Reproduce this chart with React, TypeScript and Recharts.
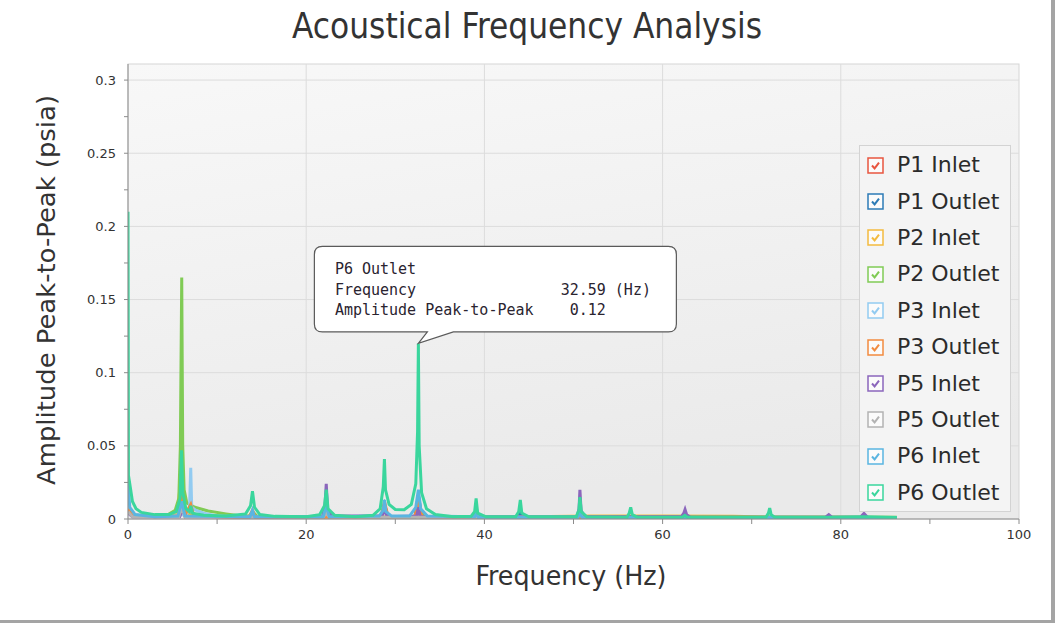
import React from 'react';
import { LineChart, Line, XAxis, YAxis, CartesianGrid, ReferenceDot, Legend } from 'recharts';

type Pt = [number, number];

const seriesNames = [
  'P1 Inlet', 'P1 Outlet', 'P2 Inlet', 'P2 Outlet', 'P3 Inlet',
  'P3 Outlet', 'P5 Inlet', 'P5 Outlet', 'P6 Inlet', 'P6 Outlet',
];
const seriesColors = [
  '#e8553f', '#2c7bb6', '#f3bb3f', '#80cb55', '#92cbf1',
  '#f28b3f', '#8b66bc', '#b3b3b3', '#5ab5e1', '#3ad69d',
];

// [frequency (Hz), amplitude peak-to-peak (psia)]
const p1Inlet: Pt[] = [
  [0, 0.006], [0.5, 0.002], [5.7, 0.002], [6.03, 0.01], [6.4, 0.002], [13.6, 0.0012], [13.97, 0.004],
  [14.3, 0.0012], [21.9, 0.0012], [22.25, 0.005], [22.6, 0.0012], [28.4, 0.0012], [28.78, 0.008],
  [29.2, 0.0012], [32.2, 0.0015], [32.59, 0.012], [33, 0.0012], [86.3, 0.001],
];
const p1Outlet: Pt[] = [
  [0, 0.008], [0.4, 0.0025], [5.7, 0.002], [6.03, 0.012], [6.4, 0.002], [21.9, 0.0012], [22.25, 0.006],
  [22.6, 0.0012], [28.4, 0.0012], [28.78, 0.01], [29.2, 0.0012], [32.2, 0.0015], [32.59, 0.016],
  [33, 0.0012], [43.8, 0.0012], [44.03, 0.005], [44.3, 0.0012], [86.3, 0.001],
];
const p2Inlet: Pt[] = [
  [0, 0.008], [0.5, 0.003], [2, 0.0018], [5.5, 0.003], [6.0, 0.03], [6.3, 0.006], [7, 0.003],
  [10, 0.002], [20, 0.0015], [21.9, 0.0015], [22.25, 0.006], [23, 0.0015], [45, 0.0015],
  [52, 0.0021], [60, 0.0021], [68, 0.0019], [72, 0.0013], [86.3, 0.0011],
];
const p2Outlet: Pt[] = [
  [0, 0.012], [0.3, 0.004], [1, 0.002], [3, 0.002], [4.5, 0.003], [5.3, 0.006], [5.7, 0.014],
  [5.88, 0.05], [5.93, 0.092], [6.03, 0.165], [6.1, 0.092], [6.14, 0.05], [6.3, 0.02], [6.6, 0.011],
  [7.5, 0.008], [9, 0.0055], [11, 0.0035], [12.5, 0.0022], [13.6, 0.002], [13.97, 0.005], [14.5, 0.0018],
  [21.9, 0.0015], [22.25, 0.004], [23, 0.0015], [28.4, 0.0015], [28.78, 0.006], [29.5, 0.0015],
  [32.2, 0.0015], [32.59, 0.01], [33.2, 0.0015], [86.3, 0.0012],
];
const p3Inlet: Pt[] = [
  [0, 0.01], [0.4, 0.003], [3, 0.0015], [6.5, 0.003], [6.9, 0.007], [7.04, 0.035], [7.15, 0.008],
  [7.6, 0.006], [8.5, 0.004], [10, 0.002], [14, 0.0015], [21.9, 0.0012], [22.25, 0.005],
  [23, 0.0012], [32.2, 0.0012], [32.59, 0.004], [33, 0.0012], [86.3, 0.001],
];
const p3Outlet: Pt[] = [
  [0, 0.007], [0.5, 0.002], [5.7, 0.002], [6.03, 0.02], [6.4, 0.003], [7.04, 0.01], [7.4, 0.002],
  [13.6, 0.0012], [13.97, 0.006], [14.3, 0.0012], [28.4, 0.0012], [28.78, 0.012], [29.2, 0.0012],
  [32.2, 0.0015], [32.59, 0.014], [33, 0.0012], [86.3, 0.001],
];
const p5Inlet: Pt[] = [
  [0, 0.004], [0.5, 0.0015], [5.8, 0.0015], [6.1, 0.006], [6.3, 0.004], [6.5, 0.0015],
  [21.8, 0.0015], [22.1, 0.008], [22.25, 0.024], [22.4, 0.007], [22.8, 0.002], [28.5, 0.002],
  [28.78, 0.006], [29.1, 0.0015], [32.4, 0.002], [32.59, 0.008], [32.8, 0.0015], [50.4, 0.0015],
  [50.62, 0.007], [50.72, 0.02], [50.85, 0.006], [51.2, 0.0015], [62.1, 0.0015], [62.38, 0.004],
  [62.52, 0.0065], [62.7, 0.003], [63.1, 0.0012], [78.3, 0.0012], [78.65, 0.003], [79, 0.0012],
  [82.2, 0.0012], [82.6, 0.0038], [83, 0.0012], [86.3, 0.001],
];
const p5Outlet: Pt[] = [
  [0, 0.005], [0.5, 0.0015], [5.7, 0.0015], [6.03, 0.008], [6.4, 0.0015], [21.9, 0.0012],
  [22.25, 0.004], [22.6, 0.0012], [50.4, 0.0012], [50.72, 0.006], [51, 0.0012], [86.3, 0.001],
];
const p6Inlet: Pt[] = [
  [0, 0.025], [0.2, 0.008], [0.8, 0.003], [3, 0.0015], [5.6, 0.002], [6.02, 0.012], [6.4, 0.002],
  [13.7, 0.0015], [13.97, 0.006], [14.2, 0.0015], [21.9, 0.0015], [22.25, 0.009], [22.6, 0.0015],
  [28.2, 0.002], [28.65, 0.006], [28.78, 0.013], [28.95, 0.005], [29.6, 0.002], [31.6, 0.002],
  [32.3, 0.008], [32.59, 0.02], [32.85, 0.007], [33.6, 0.002], [38.9, 0.0015], [39.07, 0.005],
  [39.3, 0.0012], [50.5, 0.0012], [50.72, 0.004], [50.95, 0.0012], [86.3, 0.0008],
];
const p6Outlet: Pt[] = [
  [0, 0.21], [0.05, 0.03], [0.25, 0.022], [0.5, 0.012], [0.9, 0.007], [1.5, 0.0045], [3, 0.003],
  [4.6, 0.003], [5.4, 0.005], [5.85, 0.014], [6.0, 0.047], [6.15, 0.018], [6.5, 0.007], [6.9, 0.005],
  [7.05, 0.009], [7.25, 0.004], [8.5, 0.0025], [11, 0.002], [13.2, 0.0035], [13.75, 0.009],
  [13.97, 0.019], [14.2, 0.008], [14.8, 0.003], [16.5, 0.0018], [20, 0.0015], [21.5, 0.003],
  [22.05, 0.009], [22.25, 0.02], [22.45, 0.007], [23.2, 0.0025], [25.5, 0.0015], [27.5, 0.0025],
  [28.3, 0.007], [28.65, 0.022], [28.78, 0.041], [28.9, 0.02], [29.3, 0.01], [30, 0.0065],
  [31, 0.0063], [31.8, 0.01], [32.3, 0.024], [32.5, 0.06], [32.59, 0.12], [32.68, 0.05],
  [32.95, 0.018], [33.5, 0.007], [34.5, 0.003], [36.5, 0.0015], [38.5, 0.0018], [38.9, 0.005],
  [39.07, 0.014], [39.25, 0.004], [40.2, 0.0015], [43.5, 0.0015], [43.85, 0.005], [44.03, 0.013],
  [44.2, 0.004], [45, 0.0015], [50.3, 0.0015], [50.6, 0.006], [50.72, 0.015], [50.88, 0.005],
  [51.5, 0.0015], [56, 0.0012], [56.25, 0.004], [56.42, 0.008], [56.6, 0.003], [57.2, 0.0012],
  [62.2, 0.0012], [62.5, 0.0025], [62.8, 0.0012], [71.6, 0.0012], [71.88, 0.004], [72.02, 0.0075],
  [72.18, 0.003], [72.6, 0.0012], [78.6, 0.0012], [82.6, 0.0015], [86.3, 0.001],
];

const seriesPoints = [p1Inlet, p1Outlet, p2Inlet, p2Outlet, p3Inlet, p3Outlet, p5Inlet, p5Outlet, p6Inlet, p6Outlet];

const xTicks = [0, 10, 20, 30, 40, 50, 60, 70, 80, 90, 100];
const xLabelTicks = [0, 20, 40, 60, 80, 100];
const xGrid = [20, 40, 60, 80];
const yTicks = [0, 0.025, 0.05, 0.075, 0.1, 0.125, 0.15, 0.175, 0.2, 0.225, 0.25, 0.275, 0.3];
const yLabelTicks = [0, 0.05, 0.1, 0.15, 0.2, 0.25, 0.3];

const peakFrequency = 32.59;
const peakAmplitude = 0.12;
const calloutLines = [
  'P6 Outlet',
  'Frequency                32.59 (Hz)',
  'Amplitude Peak-to-Peak    0.12',
];

const W = 1061;
const H = 623;
const PLOT = { left: 128, top: 64, right: 1019, bottom: 519 };

const Callout = ({ cx, cy }: { cx: number; cy: number }) => {
  const L = cx - 104, R = cx + 258, T = cy - 97, B = cy - 11.5, r = 8;
  const d = `M${L + r},${T} H${R - r} Q${R},${T} ${R},${T + r} V${B - r} Q${R},${B} ${R - r},${B} ` +
    `H${cx + 35} L${cx},${cy} L${cx + 9},${B} H${L + r} Q${L},${B} ${L},${B - r} V${T + r} Q${L},${T} ${L + r},${T} Z`;
  return (
    <g>
      <path d={d} fill="#ffffff" stroke="#5a5a5a" strokeWidth={1.2} />
      {calloutLines.map((line, i) => (
        <text key={i} x={L + 20.5} y={cy - 69.5 + i * 20.6} fontFamily="'DejaVu Sans Mono', monospace"
          fontSize={15} fill="#2a2430" style={{ whiteSpace: 'pre' }}>{line}</text>
      ))}
    </g>
  );
};

const renderLegend = () => (
  <div style={{ boxSizing: 'border-box', width: 152, height: 367, background: '#f4f4f4', border: '1px solid #d3d3d3', paddingTop: 1 }}>
    {seriesNames.map((name, i) => (
      <div key={name} style={{ display: 'flex', alignItems: 'center', height: 36.4 }}>
        <svg width={17} height={17} style={{ marginLeft: 7, marginRight: 13, flex: 'none' }}>
          <rect x={1} y={1} width={15} height={15} fill="#fbfbfb" stroke={seriesColors[i]} strokeWidth={1.5} />
          <path d="M5 8.5 L7.6 11.4 L12 5.6" fill="none" stroke={seriesColors[i]} strokeWidth={2} />
        </svg>
        <span style={{ fontFamily: "'DejaVu Sans', sans-serif", fontSize: 22, color: '#2b2b2b', whiteSpace: 'nowrap', lineHeight: '24px' }}>{name}</span>
      </div>
    ))}
  </div>
);

export default function App() {
  return (
    <div style={{ position: 'absolute', left: 0, top: 0, width: W, height: H, background: '#ffffff', overflow: 'hidden' }}>
      <svg width={W} height={H} style={{ position: 'absolute', left: 0, top: 0 }}>
        <defs>
          <linearGradient id="plotBg" x1="0" y1="0" x2="0.3" y2="1">
            <stop offset="0" stopColor="#f8f8f8" />
            <stop offset="1" stopColor="#eaeaea" />
          </linearGradient>
        </defs>
        <rect x={PLOT.left} y={PLOT.top} width={PLOT.right - PLOT.left} height={PLOT.bottom - PLOT.top}
          fill="url(#plotBg)" stroke="#d6d6d6" strokeWidth={1} />
        <text x={527} y={38} textAnchor="middle" fontFamily="'DejaVu Sans Condensed', 'DejaVu Sans', sans-serif"
          fontStretch="condensed" fontSize={36} fill="#333333" textLength={470} lengthAdjust="spacingAndGlyphs">
          Acoustical Frequency Analysis
        </text>
        <text x={571} y={585} textAnchor="middle" fontFamily="'DejaVu Sans Condensed', 'DejaVu Sans', sans-serif"
          fontStretch="condensed" fontSize={26} fill="#333333" textLength={191} lengthAdjust="spacingAndGlyphs">
          Frequency (Hz)
        </text>
        <text transform="translate(55,290) rotate(-90)" textAnchor="middle"
          fontFamily="'DejaVu Sans Condensed', 'DejaVu Sans', sans-serif" fontStretch="condensed"
          fontSize={25} fill="#333333" textLength={390} lengthAdjust="spacingAndGlyphs">
          Amplitude Peak-to-Peak (psia)
        </text>
        <rect x={1051} y={0} width={4} height={H} fill="#a4a4a4" />
        <rect x={0} y={620} width={1055} height={3} fill="#a4a4a4" />
      </svg>
      <div style={{ position: 'absolute', left: 0, top: 0 }}>
        <LineChart width={W} height={H} margin={{ top: PLOT.top, right: W - PLOT.right, bottom: 0, left: 0 }}>
          <CartesianGrid stroke="#dcdcdc" horizontalValues={yLabelTicks.slice(1)} verticalValues={xGrid} />
          <XAxis dataKey="f" type="number" domain={[0, 100]} ticks={xTicks} interval={0} height={H - PLOT.bottom}
            allowDataOverflow tickSize={5} tickMargin={6} stroke="#8c8c8c"
            tick={{ fontSize: 13, fill: '#333', fontFamily: "'DejaVu Sans', sans-serif" }}
            tickFormatter={(v: number) => (xLabelTicks.includes(v) ? String(v) : '')} />
          <YAxis type="number" domain={[0, 0.311]} ticks={yTicks} interval={0} width={PLOT.left}
            allowDataOverflow tickSize={4} tickMargin={8} stroke="#8c8c8c"
            tick={{ fontSize: 13, fill: '#333', fontFamily: "'DejaVu Sans', sans-serif" }}
            tickFormatter={(v: number) => (yLabelTicks.includes(v) ? String(v) : '')} />
          {seriesPoints.map((pts, i) => (
            <Line key={seriesNames[i]} name={seriesNames[i]} data={pts.map(([f, a]) => ({ f, a }))} dataKey="a"
              type="linear" stroke={seriesColors[i]} strokeWidth={3} dot={false} activeDot={false}
              isAnimationActive={false} />
          ))}
          <ReferenceDot x={peakFrequency} y={peakAmplitude} r={2} ifOverflow="visible"
            shape={(p: any) => <Callout cx={p.cx} cy={p.cy} />} />
          <Legend layout="horizontal" verticalAlign="middle" align="center" content={renderLegend}
            wrapperStyle={{ left: 859, top: 145, width: 152, height: 367 }} />
        </LineChart>
      </div>
    </div>
  );
}
